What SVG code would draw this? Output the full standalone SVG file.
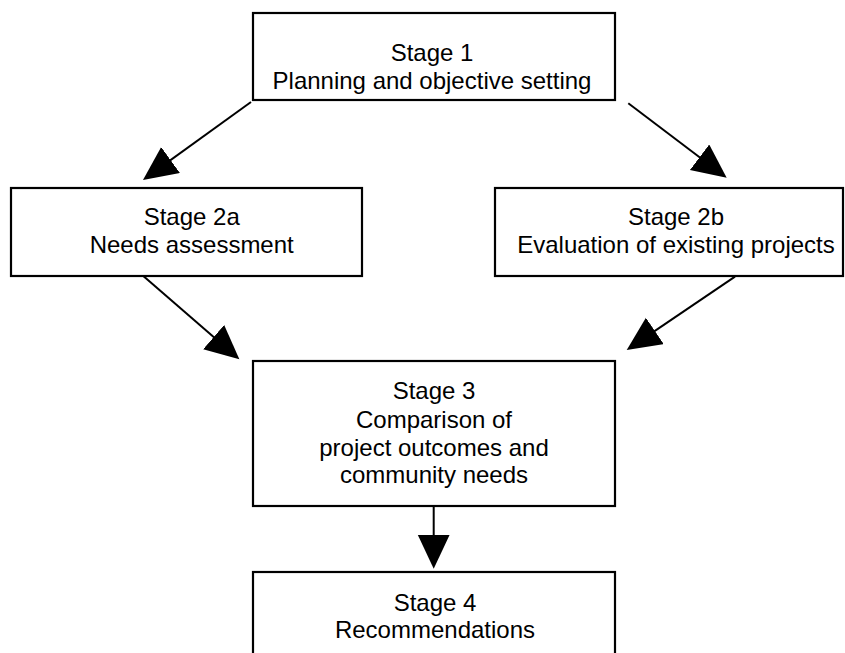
<svg xmlns="http://www.w3.org/2000/svg" width="845" height="653" viewBox="0 0 845 653">
<style>
.box{fill:#fff;stroke:#000;stroke-width:2.2}
.lbl{font-family:"Liberation Sans",Arial,sans-serif;font-size:24px;fill:#000;text-anchor:middle}
.conn{stroke:#000;stroke-width:2;fill:none;marker-end:url(#ah)}
</style>
<defs>
<marker id="ah" markerUnits="userSpaceOnUse" markerWidth="36" markerHeight="34" refX="24" refY="16" orient="auto" viewBox="0 0 36 34">
<path d="M0,0 L34,16 L0,32 Z" fill="#000"/>
</marker>
</defs>
<rect width="845" height="653" fill="#fff"/>
<g id="connectors">
<line class="conn" x1="251" y1="102" x2="151.1" y2="174.1"/>
<line class="conn" x1="628.3" y1="103.3" x2="718.7" y2="171.7"/>
<line class="conn" x1="143.3" y1="276" x2="231.8" y2="352.8"/>
<line class="conn" x1="735" y1="276.7" x2="635" y2="344.4"/>
<line class="conn" x1="433.7" y1="506" x2="433.7" y2="558.7"/>
</g>
<g id="stage1">
<rect class="box" x="253" y="13" width="362" height="87"/>
<text class="lbl" x="432" y="61">Stage 1</text>
<text class="lbl" x="432" y="89">Planning and objective setting</text>
</g>
<g id="stage2a">
<rect class="box" x="11" y="188" width="351" height="88"/>
<text class="lbl" x="191.7" y="225">Stage 2a</text>
<text class="lbl" x="191.7" y="253.3">Needs assessment</text>
</g>
<g id="stage2b">
<rect class="box" x="495" y="188" width="348" height="88"/>
<text class="lbl" x="676" y="225">Stage 2b</text>
<text class="lbl" x="676" y="253.3">Evaluation of existing projects</text>
</g>
<g id="stage3">
<rect class="box" x="253" y="361" width="362" height="145"/>
<text class="lbl" x="434" y="399.3">Stage 3</text>
<text class="lbl" x="434" y="427.7">Comparison of</text>
<text class="lbl" x="434" y="455.7">project outcomes and</text>
<text class="lbl" x="434" y="483.3">community needs</text>
</g>
<g id="stage4">
<rect class="box" x="253" y="572" width="362" height="100"/>
<text class="lbl" x="435" y="611">Stage 4</text>
<text class="lbl" x="435" y="638.3">Recommendations</text>
</g>
</svg>
